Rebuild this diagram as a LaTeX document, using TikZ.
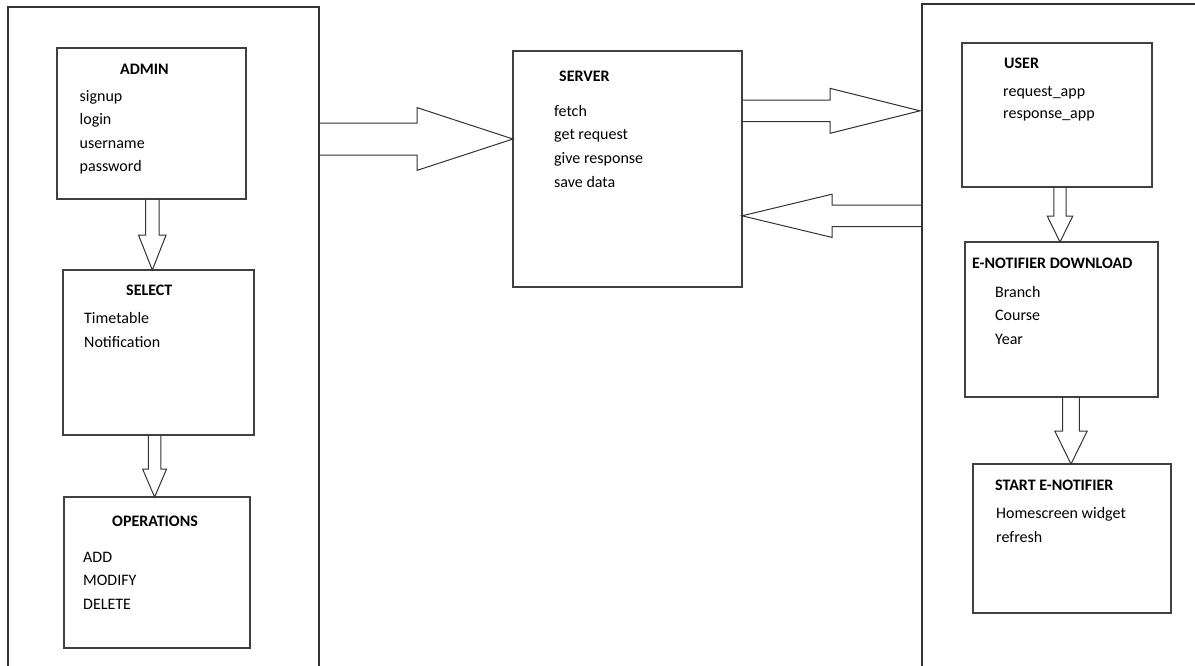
\documentclass[tikz,border=0pt]{standalone}
\usepackage{fontspec}
\setmainfont{Carlito}
\usetikzlibrary{calc}
\tikzset{
  box/.style={draw=black!75, line width=1.2pt, rectangle, anchor=north west, inner sep=0pt, outer sep=0pt},
  panel/.style={draw=black!80, line width=1.2pt, rectangle, anchor=north west, inner sep=0pt, outer sep=0pt},
  blk/.style={draw=black!80, line width=1pt, line join=miter},
  ttl/.style={anchor=base west, inner sep=0pt, font=\bfseries\fontsize{16}{19}\selectfont},
  itm/.style={anchor=base west, inner sep=0pt, font=\fontsize{16}{19}\selectfont},
}
% down block arrow: from, to, x offset, shaft half width, head half width, head length
\newcommand\dnblock[6]{%
  \draw[blk] ($(#1.south)+(#3-#4,0)$) -- ($(#1.south |- #2.north)+(#3-#4,-#6)$)
    -- ($(#1.south |- #2.north)+(#3-#5,-#6)$) -- ($(#1.south |- #2.north)+(#3,0)$)
    -- ($(#1.south |- #2.north)+(#3+#5,-#6)$) -- ($(#1.south |- #2.north)+(#3+#4,-#6)$)
    -- ($(#1.south)+(#3+#4,0)$);}
% horizontal block arrow: start coordinate, tip coordinate, direction (+1 right, -1 left), shaft half, head half, head length
\newcommand\hblock[6]{%
  \draw[blk] ($(#1)+(0,-#4)$) -- ($(#2)+(-#3*#6,-#4)$) -- ($(#2)+(-#3*#6,-#5)$) -- (#2)
    -- ($(#2)+(-#3*#6,#5)$) -- ($(#2)+(-#3*#6,#4)$) -- ($(#1)+(0,#4)$);}
\begin{document}
\begin{tikzpicture}[x=1pt,y=-1pt]
\useasboundingbox (0,0) rectangle (1195,665);
\clip (0,0) rectangle (1195,665);
\fill[white] (0,0) rectangle (1195,665);
% panels
\node[panel, minimum width=311pt, minimum height=700pt] (left) at (8,7) {};
\node[panel, minimum width=300pt, minimum height=700pt] (right) at (922,4) {};
% boxes
\node[box, minimum width=189pt, minimum height=151pt] (admin) at (57,48) {};
\node[box, minimum width=191pt, minimum height=165pt] (select) at (63,270) {};
\node[box, minimum width=186pt, minimum height=151pt] (ops) at (64,497) {};
\node[box, minimum width=229pt, minimum height=236pt] (server) at (513,51) {};
\node[box, minimum width=190pt, minimum height=144pt] (user) at (962,43) {};
\node[box, minimum width=193pt, minimum height=155pt] (enotif) at (965,242) {};
\node[box, minimum width=198pt, minimum height=149pt] (start) at (973,464) {};
% texts
\node[ttl] (adminT) at (120,74) {ADMIN};
\node[itm] (admin1) at (79.5,101) {signup};
\node[itm] (admin2) at (79.5,124.5) {login};
\node[itm] (admin3) at (79.5,148) {username};
\node[itm] (admin4) at (79.5,171) {password};
\node[ttl] (selectT) at (126,295) {SELECT};
\node[itm] (select1) at (84,323.5) {Timetable};
\node[itm] (select2) at (84,347) {Notification};
\node[ttl] (opsT) at (112,526) {OPERATIONS};
\node[itm] (ops1) at (83,562) {ADD};
\node[itm] (ops2) at (83,585.5) {MODIFY};
\node[itm] (ops3) at (83,609) {DELETE};
\node[ttl] (serverT) at (559,81) {SERVER};
\node[itm] (server1) at (554,116.5) {fetch};
\node[itm] (server2) at (554,139.5) {get request};
\node[itm] (server3) at (554,163.5) {give response};
\node[itm] (server4) at (554,187) {save data};
\node[ttl] (userT) at (1004,68) {USER};
\node[itm] (user1) at (1003,96) {request\_app};
\node[itm] (user2) at (1003,118.5) {response\_app};
\node[ttl] (enotifT) at (972,268) {E-NOTIFIER DOWNLOAD};
\node[itm] (enotif1) at (995,297) {Branch};
\node[itm] (enotif2) at (995,320) {Course};
\node[itm] (enotif3) at (995,344) {Year};
\node[ttl] (startT) at (995,490) {START E-NOTIFIER};
\node[itm] (start1) at (996,518.5) {Homescreen widget};
\node[itm] (start2) at (996,542) {refresh};
% down arrows
\dnblock{admin}{select}{0.8}{6.8}{13.8}{35}
\dnblock{select}{ops}{-3.9}{6.3}{12}{28}
\dnblock{user}{enotif}{3}{6.2}{12.8}{26}
\dnblock{enotif}{start}{9.5}{8.3}{16.2}{33}
% horizontal arrows
\coordinate (a1s) at (left.east |- 0,139);
\coordinate (a1t) at (server.west |- 0,139);
\hblock{a1s}{a1t}{1}{16}{31.4}{96}
\coordinate (a2s) at (server.east |- 0,110.8);
\coordinate (a2t) at ([xshift=-2pt]right.west |- 0,110.8);
\hblock{a2s}{a2t}{1}{10.8}{22.5}{90}
\coordinate (a3s) at (right.west |- 0,215.8);
\coordinate (a3t) at (server.east |- 0,215.8);
\hblock{a3s}{a3t}{-1}{10.8}{21.6}{90}
\end{tikzpicture}
\end{document}
